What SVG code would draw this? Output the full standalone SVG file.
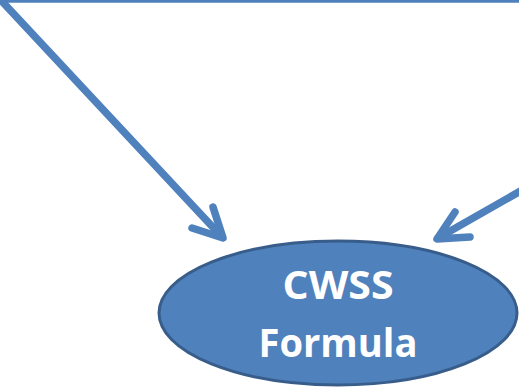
<svg xmlns="http://www.w3.org/2000/svg" width="519" height="390" viewBox="0 0 519 390">
  <style>
    .conn { fill: none; stroke: #4f81bd; stroke-width: 7.5; stroke-linecap: round; stroke-linejoin: round; }
    .node { fill: #4f81bd; stroke: #385d8a; stroke-width: 3; }
    .label { fill: #ffffff; font-family: "Open Sans", "Liberation Sans", Arial, sans-serif; font-weight: bold; font-size: 40px; text-anchor: middle; }
  </style>
  <rect width="519" height="390" fill="#ffffff"/>
  <g id="connectors">
    <!-- top bus line -->
    <line x1="0" y1="1.2" x2="519" y2="1.2" stroke="#4f81bd" stroke-width="3"/>
    <!-- left feed into the formula -->
    <path class="conn" d="M-3,-4 L222,237"/>
    <path class="conn" d="M213,207 L223,238 L192,228"/>
    <!-- right feed into the formula -->
    <path class="conn" d="M524,189 L438,238"/>
    <path class="conn" d="M455,212 L437,239 L470,237"/>
  </g>
  <g id="cwss-formula">
    <ellipse class="node" cx="338" cy="313" rx="179" ry="72"/>
    <text class="label" x="338" y="299" textLength="111" lengthAdjust="spacingAndGlyphs">CWSS</text>
    <text class="label" x="338" y="357" textLength="159" lengthAdjust="spacingAndGlyphs">Formula</text>
  </g>
</svg>
